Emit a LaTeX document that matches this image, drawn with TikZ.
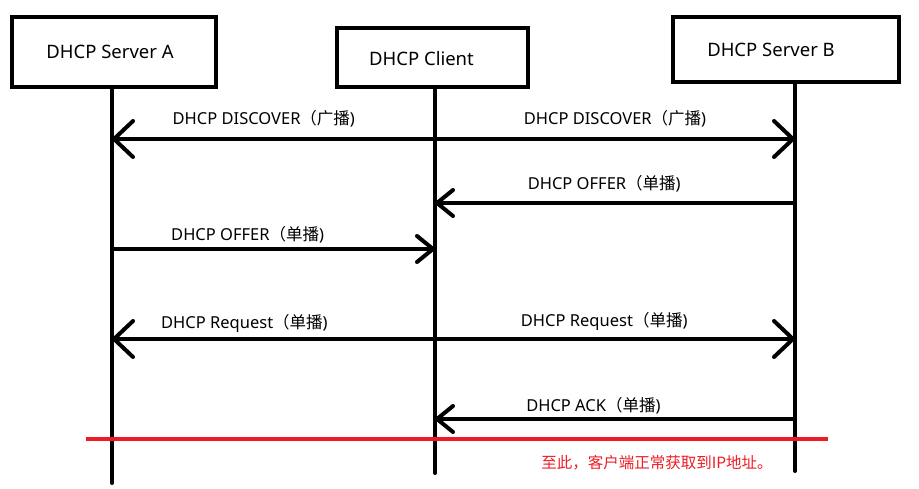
\documentclass[tikz,border=0pt]{standalone}
\usepackage{fontspec}
\setmainfont{Noto Sans}
\newfontfamily\cjk{Noto Sans CJK SC}
\usetikzlibrary{arrows.meta}
\definecolor{paintred}{RGB}{237,28,36}
\newcommand{\zh}[1]{{\cjk #1}}

\begin{document}
\begin{tikzpicture}[x=1pt,y=-1pt,line width=4pt,line cap=round,
  big/.tip={Straight Barb[length=19pt,width=36pt,round]},
  small/.tip={Straight Barb[length=16pt,width=26pt,round]},
  box/.style={draw,rectangle,inner sep=0pt,line cap=butt},
  every label/.style={font=\fontsize{18.5}{20}\selectfont},
  msg/.style={font=\fontsize{16.5}{18}\selectfont}]

  \useasboundingbox (0,0) rectangle (919,489);

  % boxes
  \node[box,minimum width=204pt,minimum height=70pt,label={[xshift=-4pt]center:DHCP Server A}] (srvA) at (114,52) {};
  \node[box,minimum width=191pt,minimum height=59pt,label={[xshift=-11pt,yshift=-1pt]center:DHCP Client}] (client) at (432.5,57.5) {};
  \node[box,minimum width=226pt,minimum height=65pt,label={[xshift=-15pt]center:DHCP Server B}] (srvB) at (786,49.5) {};

  % lifelines
  \coordinate (aEnd) at (112,483);
  \coordinate (cEnd) at (435,473);
  \coordinate (bEnd) at (795,471);
  \draw (srvA.south -| aEnd) -- (aEnd);
  \draw (client.south -| cEnd) -- (cEnd);
  \draw (srvB.south -| bEnd) -- (bEnd);

  \foreach \n/\y in {disc/139,offB/203,offA/249,req/339,ack/419} {
    \coordinate (a\n) at (112,\y);
    \coordinate (c\n) at (435,\y);
    \coordinate (b\n) at (795,\y);
  }

  % messages
  \path
    (adisc) edge[big-] node[msg,pos=0.47,above=7pt] {DHCP DISCOVER\zh{（广播})} (cdisc)
    (cdisc) edge[-big] node[msg,pos=0.5,above=7pt] {DHCP DISCOVER\zh{（广播})} (bdisc)
    (boffB) edge[-small] node[msg,pos=0.53,above=6pt] {DHCP OFFER\zh{（单播})} (coffB)
    (aoffA) edge[-small] node[msg,pos=0.42,above=1pt] {DHCP OFFER\zh{（单播})} (coffA)
    (areq) edge[big-] node[msg,pos=0.41,above=1pt] {DHCP Request\zh{（单播})} (creq)
    (creq) edge[-big] node[msg,pos=0.47,above=3pt] {DHCP Request\zh{（单播})} (breq)
    (back) edge[-small] node[msg,pos=0.56,above=0pt] {DHCP ACK\zh{（单播})} (cack);

  % end of exchange
  \coordinate (redL) at (86,439);
  \coordinate (redR) at (828,439);
  \draw[paintred,line cap=butt] (redL) -- (redR);
  \node[text=paintred,font=\cjk\fontsize{15.5}{17}\selectfont] (note) at (657,463) {至此，客户端正常获取到IP地址。};

\end{tikzpicture}
\end{document}
